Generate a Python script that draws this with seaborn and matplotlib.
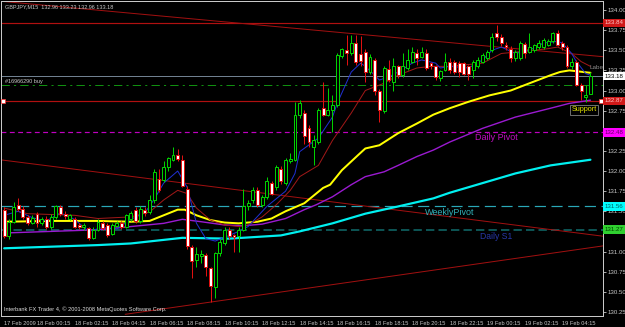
import numpy as np
import pandas as pd
import matplotlib
matplotlib.use("Agg")
import matplotlib.pyplot as plt
import matplotlib.transforms as mtransforms
import seaborn as sns

# ---------------- data ----------------
opens = [131.52,131.19,131.37,131.58,131.53,131.43,131.36,131.47,131.35,131.41,
         131.31,131.43,131.55,131.47,131.41,131.40,131.33,131.30,131.29,131.17,
         131.27,131.36,131.33,131.22,131.32,131.36,131.31,131.40,131.52,131.38,
         131.52,131.49,131.64,131.90,131.89,132.05,132.14,132.20,132.14,131.78,
         131.06,130.89,130.95,130.96,130.79,130.56,130.98,131.10,131.27,131.20,
         131.19,131.27,131.56,131.64,131.76,131.58,131.68,131.85,131.80,132.03,
         131.85,132.13,132.14,132.70,132.72,132.53,132.30,132.36,132.78,132.70,
         132.76,132.82,133.43,133.50,133.46,133.59,133.45,133.48,133.23,133.38,
         132.99,132.74,133.27,133.11,133.30,133.19,133.28,133.36,133.46,133.42,
         133.46,133.34,133.30,133.15,133.26,133.36,133.36,133.34,133.34,133.30,
         133.25,133.30,133.36,133.40,133.50,133.71,133.67,133.57,133.52,133.40,
         133.40,133.58,133.48,133.50,133.54,133.54,133.57,133.61,133.71,133.59,
         133.54,133.30,133.36,133.07,132.92,132.96]
highs = [131.55,131.40,131.62,131.66,131.56,131.45,131.45,131.49,131.43,131.44,
         131.47,131.58,131.58,131.50,131.47,131.43,131.35,131.36,131.31,131.30,
         131.40,131.38,131.35,131.35,131.38,131.38,131.47,131.50,131.55,131.57,
         131.55,131.70,132.03,132.02,132.13,132.18,132.30,132.27,132.20,131.82,
         131.08,131.06,131.02,130.98,130.81,131.00,131.15,131.30,131.30,131.22,
         131.30,131.78,131.64,131.80,131.80,131.70,131.92,131.88,132.07,132.06,
         132.16,132.22,132.86,132.88,132.76,132.57,132.45,132.78,133.11,133.03,
         132.94,133.46,133.53,133.69,133.69,133.69,133.68,133.52,133.45,133.40,
         133.02,133.30,133.38,133.40,133.32,133.46,133.51,133.54,133.51,133.54,
         133.51,133.36,133.32,133.26,133.46,133.40,133.38,133.37,133.36,133.32,
         133.38,133.42,133.47,133.50,133.71,133.82,133.70,133.60,133.55,133.50,
         133.62,133.60,133.71,133.58,133.63,133.65,133.64,133.73,133.75,133.61,
         133.56,133.40,133.38,133.09,133.07,133.23]
lows = [131.17,131.16,131.35,131.50,131.40,131.33,131.34,131.31,131.33,131.28,
        131.28,131.40,131.44,131.40,131.39,131.29,131.28,131.27,131.14,131.15,
        131.25,131.27,131.18,131.20,131.30,131.28,131.29,131.38,131.35,131.36,
        131.44,131.46,131.60,131.74,131.86,132.00,132.12,132.12,131.80,131.03,
        130.67,130.81,130.86,130.69,130.37,130.42,130.95,131.08,131.16,131.00,
        131.00,131.25,131.52,131.60,131.55,131.55,131.65,131.70,131.76,131.84,
        131.83,132.10,132.12,132.66,132.34,132.30,132.07,132.33,132.68,132.68,
        132.49,132.80,133.40,133.32,133.44,133.32,133.30,133.11,133.20,132.94,
        132.61,132.72,133.10,133.00,133.16,133.17,133.26,133.34,133.32,133.40,
        133.26,133.27,133.13,133.12,133.24,133.22,133.20,133.17,133.19,133.13,
        133.15,133.28,133.34,133.38,133.48,133.62,133.55,133.50,133.36,133.37,
        133.38,133.40,133.46,133.48,133.52,133.52,133.55,133.59,133.55,133.50,
        133.28,133.27,133.05,132.88,132.86,132.96]
closes = [131.19,131.37,131.55,131.53,131.43,131.36,131.42,131.35,131.40,131.31,
          131.43,131.56,131.47,131.44,131.45,131.31,131.30,131.33,131.17,131.27,
          131.37,131.29,131.21,131.33,131.36,131.30,131.45,131.48,131.38,131.53,
          131.48,131.64,131.99,131.77,132.05,132.16,132.20,132.15,131.82,131.07,
          130.88,130.97,130.97,130.81,130.57,130.98,131.12,131.27,131.19,131.18,
          131.27,131.56,131.60,131.76,131.58,131.68,131.87,131.72,132.05,131.87,
          132.14,132.15,132.70,132.84,132.43,132.36,132.38,132.76,132.70,132.76,
          132.82,133.44,133.51,133.46,133.59,133.35,133.37,133.23,133.42,132.99,
          132.76,133.28,133.13,133.30,133.19,133.30,133.38,133.48,133.40,133.48,
          133.28,133.30,133.17,133.24,133.36,133.25,133.23,133.23,133.21,133.21,
          133.36,133.38,133.44,133.48,133.67,133.67,133.59,133.54,133.40,133.48,
          133.59,133.46,133.54,133.56,133.59,133.63,133.62,133.71,133.57,133.54,
          133.30,133.36,133.07,132.99,132.94,133.18]

# moving averages (bar index, price)
blue_idx = [0,3,6,9,12,15,18,21,24,27,30,32,34,37,39,41,43,45,48,50,52,56,60,62,63,67,70,71,74,76,77,79,80,82,84,87,89,92,93,95,99,102,104,106,109,112,115,118,119,121,122,124,125]
blue_val = [131.45,131.50,131.42,131.38,131.48,131.40,131.25,131.30,131.28,131.40,131.48,131.65,131.85,132.00,131.80,131.35,131.16,131.13,131.20,131.25,131.31,131.56,131.75,131.97,132.24,132.41,132.67,132.84,133.23,133.34,133.30,133.19,133.13,133.17,133.23,133.34,133.38,133.34,133.28,133.30,133.28,133.38,133.50,133.54,133.46,133.50,133.59,133.61,133.59,133.46,133.36,133.21,133.19]
brown_idx = [0,5,15,20,27,31,34,37,39,41,44,47,50,52,55,58,61,63,67,70,74,77,81,84,88,91,95,102,106,113,116,118,121,123,125]
brown_val = [131.54,131.47,131.45,131.41,131.43,131.49,131.64,131.76,131.72,131.54,131.39,131.33,131.31,131.33,131.43,131.58,131.76,131.93,132.07,132.38,132.72,133.00,133.09,133.19,133.28,133.30,133.30,133.34,133.46,133.50,133.52,133.54,133.46,133.36,133.30]
yellow_idx = [0,10,20,27,31,34,37,38.5,41,44,47,50,54,57,60,64,68,69.5,72,75.5,77,80,84,88,91.5,95,99,103.5,108,112,116.5,118.5,120.5,123.5,125]
yellow_val = [131.37,131.38,131.38,131.37,131.38,131.45,131.52,131.52,131.45,131.39,131.36,131.35,131.37,131.41,131.50,131.60,131.79,131.83,132.01,132.20,132.28,132.32,132.47,132.59,132.70,132.78,132.86,132.94,133.00,133.09,133.19,133.23,133.25,133.23,133.22]
purple_idx = [0,10,20,27,34,38,42,47,51,55,60,64,66.5,70,74,77,81,84,88,91.5,95,102,109,116.5,120.5,125]
purple_val = [131.23,131.25,131.27,131.31,131.35,131.40,131.37,131.33,131.32,131.34,131.41,131.52,131.58,131.68,131.83,131.93,131.99,132.07,132.18,132.26,132.36,132.53,132.67,132.78,132.84,132.88]
cyan_idx = [0,10,20,27,38,48,59,63,70,77,84,91.5,95,102,109,116.5,125]
cyan_val = [131.04,131.06,131.08,131.10,131.17,131.16,131.20,131.25,131.35,131.47,131.56,131.66,131.73,131.85,131.97,132.07,132.14]

# horizontal levels
level_top = 133.84
level_bid = 133.18
level_order = 133.065
level_red = 132.87
level_daily_pivot = 132.48
level_weekly_pivot = 131.56
level_daily_s1 = 131.27

# trend lines (bar index, price)
trend1_idx = [-0.9, 127.7]; trend1_val = [134.11, 133.42]
trend2_idx = [-0.9, 127.7]; trend2_val = [132.14, 131.19]
trend3_idx = [25.8, 127.7]; trend3_val = [130.22, 131.07]

tick_idx = [0, 7, 15, 23, 31, 39, 47, 55, 63, 71, 79, 87, 95, 103, 111, 119]
tick_lab = ["17 Feb 2009", "18 Feb 00:15", "18 Feb 02:15", "18 Feb 04:15", "18 Feb 06:15",
            "18 Feb 08:15", "18 Feb 10:15", "18 Feb 12:15", "18 Feb 14:15", "18 Feb 16:15",
            "18 Feb 18:15", "18 Feb 20:15", "18 Feb 22:15", "19 Feb 00:15", "19 Feb 02:15",
            "19 Feb 04:15"]
price_ticks = [130.25, 130.50, 130.75, 131.00, 131.25, 131.50, 131.75, 132.00, 132.25,
               132.50, 132.75, 133.00, 133.25, 133.50, 133.75, 134.00]
# tick labels hidden behind the coloured level boxes in the original
hidden_ticks = [131.25, 132.50]

# ---------------- style ----------------
sns.set_style("dark")
plt.rcParams["font.family"] = ["Liberation Sans", "DejaVu Sans"]
plt.rcParams["lines.scale_dashes"] = False
PX = 0.72  # one pixel in points at dpi=100

W, H = 625, 327
fig = plt.figure(figsize=(W / 100, H / 100), dpi=100, facecolor="black")
ax = fig.add_axes([1 / W, (H - 316) / H, 602 / W, 315 / H])
ax.set_facecolor("black")
FG = "#c8c8c8"

ax.set_xlim(-0.68, 127.68)
ax.set_ylim(130.199, 134.112)

# horizontal objects
ax.axhline(level_top, color="#b01010", lw=1.2 * PX, zorder=2)
ax.axhline(level_bid, color="#708090", lw=1.0 * PX, zorder=2)
ax.axhline(level_order, color="#109010", lw=1.0 * PX, ls=(0, (6, 3, 1.5, 3)), zorder=2)
ax.axhline(level_red, color="#b01010", lw=1.2 * PX, zorder=2)
ax.axhline(level_daily_pivot, color="#c000c0", lw=1.2 * PX, ls=(0, (3.5, 2.5)), zorder=2)
ax.axhline(level_weekly_pivot, color="#2aa8b8", lw=1.2 * PX, ls=(0, (8, 4)), zorder=2)
ax.axhline(level_daily_s1, color="#106868", lw=1.6 * PX, ls=(0, (6, 3)), zorder=2)
for xx in (-0.3, 127.2):
    ax.plot([xx], [level_red], marker="s", ms=2.2, mfc="white", mec="#ff3030", mew=0.5,
            clip_on=False, zorder=6)

# trend lines
for tx, tv in ((trend1_idx, trend1_val), (trend2_idx, trend2_val), (trend3_idx, trend3_val)):
    ax.plot(tx, tv, color="#a01010", lw=1.0 * PX, zorder=2)

# moving averages
ma_specs = [
    (cyan_idx, cyan_val, "#00f0f0", 2.2),
    (purple_idx, purple_val, "#9a1ad0", 1.4),
    (yellow_idx, yellow_val, "#ffff00", 2.0),
    (brown_idx, brown_val, "#a01818", 1.0),
    (blue_idx, blue_val, "#2030d0", 1.0),
]
for idx, val, col, lw in ma_specs:
    df = pd.DataFrame({"bar": idx, "price": val})
    sns.lineplot(data=df, x="bar", y="price", ax=ax, color=col, lw=lw * PX,
                 estimator=None, sort=True, zorder=3)

# candles
bars = pd.DataFrame({"o": opens, "h": highs, "l": lows, "c": closes})
bars["bar"] = np.arange(len(bars))
up = bars["c"] >= bars["o"]
ax.vlines(bars["bar"][up], bars["l"][up], bars["h"][up], color="#00d000", lw=1.0 * PX, zorder=4)
ax.vlines(bars["bar"][~up], bars["l"][~up], bars["h"][~up], color="#e01010", lw=1.0 * PX, zorder=4)
body_lo = np.minimum(bars["o"], bars["c"])
body_h = np.maximum(np.abs(bars["c"] - bars["o"]), 0.012)
ax.bar(bars["bar"][up], body_h[up], bottom=body_lo[up], width=0.62,
       color="black", edgecolor="#00d000", lw=1.0 * PX, zorder=5)
ax.bar(bars["bar"][~up], body_h[~up], bottom=body_lo[~up], width=0.62,
       color="white", edgecolor="#e01010", lw=1.0 * PX, zorder=5)

# spines and axes
for s in ax.spines.values():
    s.set_color(FG)
    s.set_linewidth(1.0 * PX)
ax.grid(False)
ax.set_xlabel("")
ax.set_ylabel("")
ax.yaxis.tick_right()
ax.set_yticks(price_ticks)
ax.set_yticklabels(["" if p in hidden_ticks else f"{p:.2f}" for p in price_ticks])
ax.tick_params(axis="y", colors=FG, labelsize=4.4, length=2.0, width=0.6, pad=1.0,
               labelcolor=FG)
ax.set_xticks(tick_idx)
ax.set_xticklabels(tick_lab)
ax.tick_params(axis="x", colors=FG, labelsize=4.1, length=2.5, width=0.6, pad=1.0,
               labelcolor=FG)
for t in ax.get_xticklabels():
    t.set_ha("left")

# price label boxes on the right axis
bt = mtransforms.blended_transform_factory(ax.transAxes, ax.transData)
boxes = [
    (level_top, "133.84", "#d01818", "#ffc8c8"),
    (level_bid, "133.18", "#ffffff", "#000000"),
    (level_red, "132.87", "#d01818", "#ffc8c8"),
    (level_daily_pivot, "132.48", "#ff00ff", "#600060"),
    (level_weekly_pivot, "131.56", "#00ffff", "#006060"),
    (level_daily_s1, "131.27", "#30d030", "#004000"),
]
for lv, txt, fc, tc in boxes:
    ax.text(1.0025, lv, txt, transform=bt, ha="left", va="center", fontsize=4.4, color=tc,
            clip_on=False, zorder=10,
            bbox=dict(boxstyle="square,pad=0.3", fc=fc, ec="none"))

# texts on chart
ax.text(0.006, 0.988, "GBPJPY,M15  132.96 133.23 132.96 133.18", transform=ax.transAxes,
        ha="left", va="top", fontsize=4.0, color=FG)
ax.text(0.007, 133.11, "#16966290 buy", transform=bt, ha="left", va="center", fontsize=4.0,
        color=FG)
ax.text(0.005, 0.014, "Interbank FX Trader 4, \u00a9 2001-2008 MetaQuotes Software Corp.",
        transform=ax.transAxes, ha="left", va="bottom", fontsize=4.1, color="#e0e0e0")
ax.text(100.4, 132.42, "Daily Pivot", ha="left", va="center", fontsize=6.5, color="#c010c0")
ax.text(89.7, 131.48, "WeeklyPivot", ha="left", va="center", fontsize=6.5, color="#30b0b8")
ax.text(101.5, 131.19, "Daily S1", ha="left", va="center", fontsize=6.2, color="#2838a8")
ax.text(124.9, 133.28, "Label", ha="left", va="center", fontsize=4.6, color="#8a8a8a",
        clip_on=True)
ax.text(123.6, 132.76, "Support", ha="center", va="center", fontsize=5.2, color="#e8e800",
        bbox=dict(boxstyle="square,pad=0.2", fc="black", ec="#808080", lw=0.6), zorder=8)

fig.savefig("out.png", dpi=100, facecolor="black")
